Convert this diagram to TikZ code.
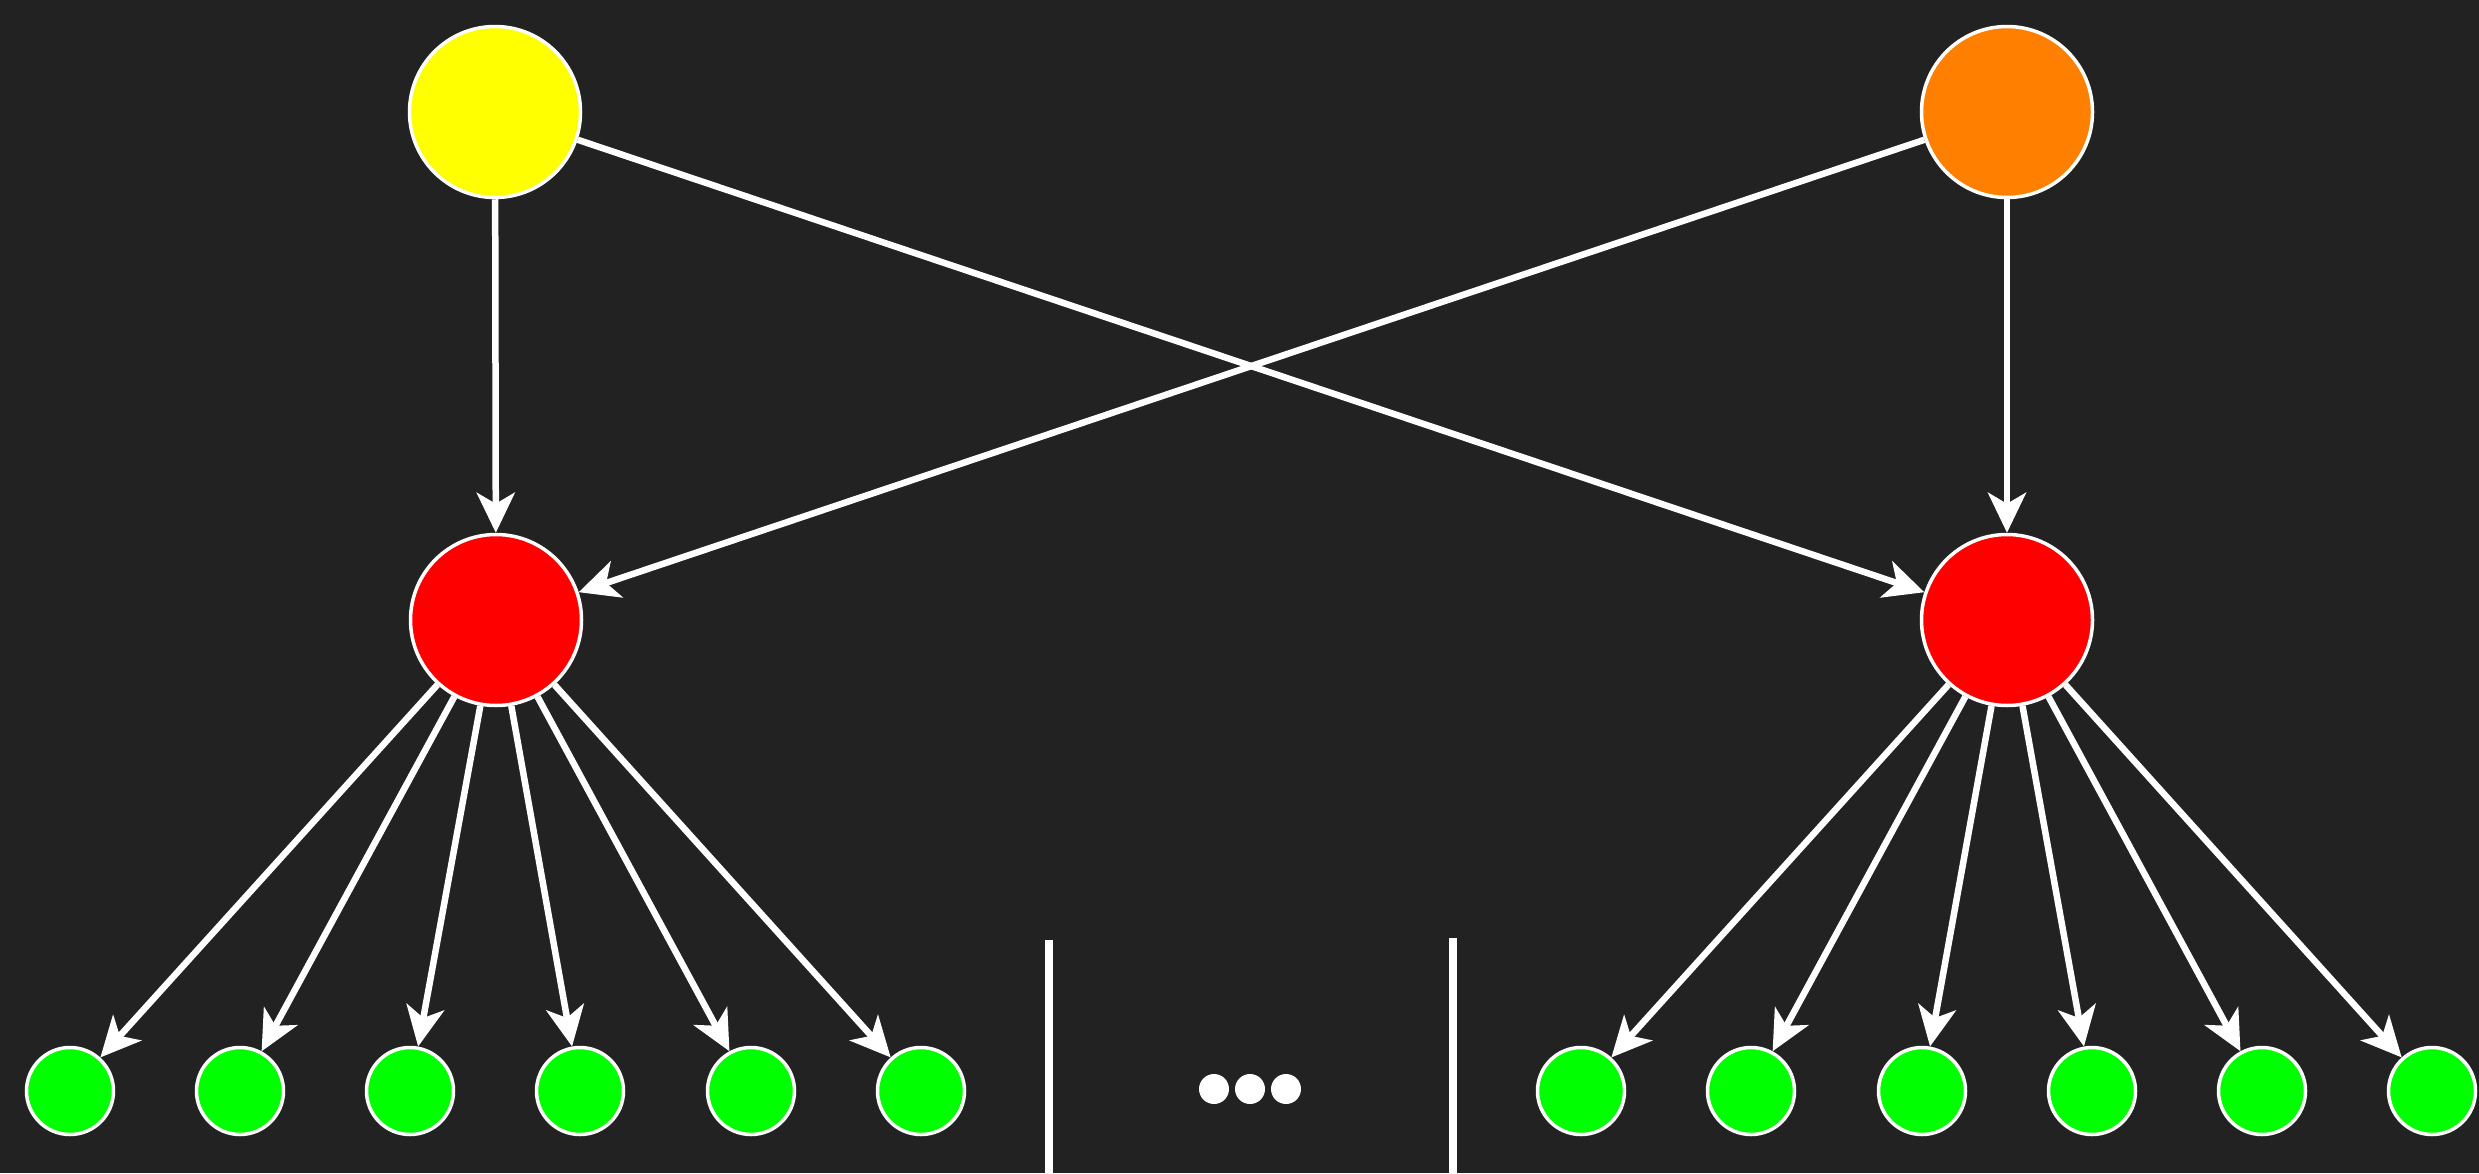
\documentclass[tikz,border=0pt]{standalone}
\usetikzlibrary{arrows.meta}
\definecolor{bg}{HTML}{222222}
\definecolor{nyellow}{HTML}{FFFF00}
\definecolor{norange}{HTML}{FF8000}
\definecolor{nred}{HTML}{FF0000}
\definecolor{ngreen}{HTML}{00FF00}
\tikzset{
  bignode/.style={circle, draw=white, line width=3.5pt, minimum size=171pt, inner sep=0pt},
  leafnode/.style={circle, draw=white, line width=3.5pt, fill=ngreen, minimum size=87pt, inner sep=0pt},
  edge/.style={draw=white, line width=6.5pt, -{Stealth[length=40pt,width=38pt,inset=11pt,fill=white]}},
  sepline/.style={draw=white, line width=8pt},
  dotnode/.style={circle, fill=white, minimum size=30pt, inner sep=0pt},
}
\begin{document}
\begin{tikzpicture}[x=1pt,y=-1pt]
\fill[bg] (0,0) rectangle (2479,1173);
\useasboundingbox (0,0) rectangle (2479,1173);

\node[bignode, fill=nyellow] (y) at (495,112) {};
\node[bignode, fill=norange] (o) at (2007,112) {};
\node[bignode, fill=nred] (rl) at (496,620) {};
\node[bignode, fill=nred] (rr) at (2007,620) {};

\foreach \i/\x in {1/70,2/240,3/410,4/580,5/751,6/921}
  \node[leafnode] (gl\i) at (\x,1091) {};
\foreach \i/\x in {1/1581,2/1751,3/1922,4/2092,5/2262,6/2432}
  \node[leafnode] (gr\i) at (\x,1091) {};

\draw[edge] (y) -- (rl);
\draw[edge] (y) -- (rr);
\draw[edge] (o) -- (rl);
\draw[edge] (o) -- (rr);

\foreach \i in {1,...,6} {
  \draw[edge] (rl) -- (gl\i);
  \draw[edge] (rr) -- (gr\i);
}

\coordinate (s1t) at (1049,940);
\coordinate (s1b) at (1049,1173);
\coordinate (s2t) at (1453,938);
\coordinate (s2b) at (1453,1173);
\draw[sepline] (s1t) -- (s1b);
\draw[sepline] (s2t) -- (s2b);

\node[dotnode] (d1) at (1214,1089) {};
\node[dotnode] (d2) at (1250,1089) {};
\node[dotnode] (d3) at (1286,1089) {};
\end{tikzpicture}
\end{document}
